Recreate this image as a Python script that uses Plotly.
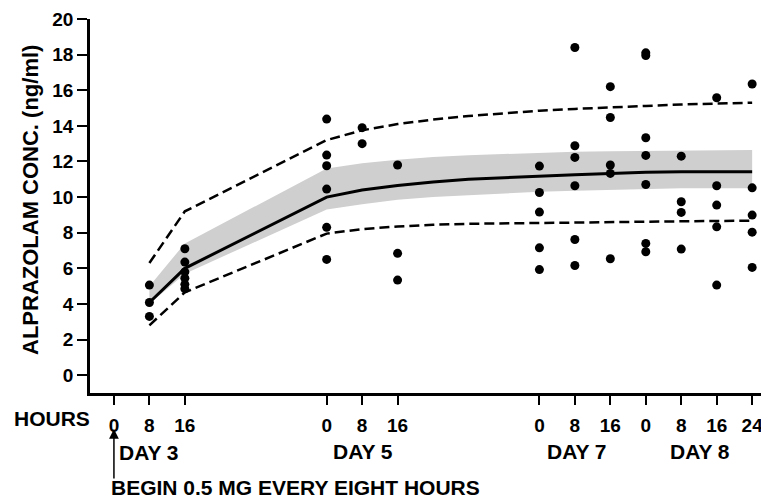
import plotly.graph_objects as go

# ---- data (hours since start of dosing on day 3) ----
tick_hours = [0, 8, 16, 48, 56, 64, 96, 104, 112, 120, 128, 136, 144]
tick_labels = ["0", "8", "16", "0", "8", "16", "0", "8", "16", "0", "8", "16", "24"]
y_ticks = [0, 2, 4, 6, 8, 10, 12, 14, 16, 18, 20]

obs_t8 = [5.06, 4.08, 3.3]
obs_t16 = [7.1, 6.35, 5.8, 5.45, 5.1, 4.85]
obs_t48 = [14.38, 12.36, 11.76, 10.45, 8.3, 6.5]
obs_t56 = [13.9, 13.0]
obs_t64 = [11.8, 6.84, 5.34]
obs_t96 = [11.74, 10.26, 9.16, 7.15, 5.93]
obs_t104 = [18.4, 12.88, 12.23, 10.64, 7.62, 6.16]
obs_t112 = [16.2, 14.47, 11.8, 11.33, 6.54]
obs_t120 = [18.1, 17.95, 13.33, 12.34, 10.71, 7.4, 6.93]
obs_t128 = [12.3, 9.74, 9.14, 7.08]
obs_t136 = [15.58, 10.64, 9.55, 8.33, 5.06]
obs_t144 = [16.35, 10.52, 8.99, 8.03, 6.05]

obs_times = [8, 16, 48, 56, 64, 96, 104, 112, 120, 128, 136, 144]
obs_sets = [obs_t8, obs_t16, obs_t48, obs_t56, obs_t64, obs_t96,
            obs_t104, obs_t112, obs_t120, obs_t128, obs_t136, obs_t144]

curve_t = [8, 16, 48, 56, 64, 72, 80, 96, 104, 112, 120, 128, 136, 144]
mean_v = [4.08, 6.0, 10.0, 10.4, 10.65, 10.85, 11.0, 11.2, 11.26, 11.33, 11.4, 11.42, 11.42, 11.42]
upper_v = [6.3, 9.2, 13.2, 13.75, 14.1, 14.35, 14.55, 14.85, 14.95, 15.05, 15.12, 15.2, 15.25, 15.3]
lower_v = [2.8, 4.65, 7.95, 8.2, 8.35, 8.45, 8.5, 8.56, 8.58, 8.6, 8.62, 8.64, 8.66, 8.67]
band_hi = [5.0, 7.4, 11.6, 11.9, 12.1, 12.25, 12.35, 12.5, 12.55, 12.58, 12.6, 12.62, 12.64, 12.65]
band_lo = [4.0, 5.7, 9.3, 9.6, 9.85, 10.0, 10.1, 10.3, 10.35, 10.4, 10.45, 10.5, 10.5, 10.5]

# ---- layout geometry (page pixels; page body has an 8px margin) ----
PAGE_W, PAGE_H, OFF = 769, 499, 8
W, H = PAGE_W - OFF, PAGE_H - OFF
PLOT_L, PLOT_R, PLOT_T, PLOT_B = 90, 769, 19, 393
ML, MR, MT, MB = PLOT_L - OFF, PAGE_W - PLOT_R, PLOT_T - OFF, PAGE_H - PLOT_B
PW, PH = PLOT_R - PLOT_L, PLOT_B - PLOT_T
FONT = "Liberation Sans"


def px_x(px):
    return (px - PLOT_L) / PW


def px_y(py):
    return (PLOT_B - py) / PH


fig = go.Figure()

# shaded band
fig.add_trace(go.Scatter(x=curve_t, y=band_lo, mode="lines", line=dict(width=0),
                         showlegend=False, hoverinfo="skip"))
fig.add_trace(go.Scatter(x=curve_t, y=band_hi, mode="lines", line=dict(width=0),
                         fill="tonexty", fillcolor="#cfcfcf",
                         showlegend=False, hoverinfo="skip"))

# dashed envelopes
for vals in (upper_v, lower_v):
    fig.add_trace(go.Scatter(x=curve_t, y=vals, mode="lines",
                             line=dict(color="black", width=2.5, dash="10px,5px"),
                             showlegend=False))

# mean line
fig.add_trace(go.Scatter(x=curve_t, y=mean_v, mode="lines",
                         line=dict(color="black", width=3), showlegend=False))

# observations
xs, ys = [], []
for t, vals in zip(obs_times, obs_sets):
    xs += [t] * len(vals)
    ys += vals
fig.add_trace(go.Scatter(x=xs, y=ys, mode="markers",
                         marker=dict(color="black", size=9), showlegend=False))

tickfont = dict(family=FONT, size=19, color="black", weight="bold")
lblfont = dict(family=FONT, size=21, color="black", weight="bold")
titlefont = dict(family=FONT, size=22, color="black", weight="bold")

fig.update_xaxes(range=[-5.4, 147.8], tickvals=tick_hours, ticktext=tick_labels,
                 showline=True, linecolor="black", linewidth=2.5,
                 ticks="outside", ticklen=9, tickwidth=2, tickcolor="black",
                 tickfont=tickfont, showgrid=False, zeroline=False,
                 ticklabelstandoff=4)
fig.update_yaxes(range=[-1, 20], tickvals=y_ticks,
                 showline=True, linecolor="black", linewidth=2.5,
                 ticks="outside", ticklen=10, tickwidth=2, tickcolor="black",
                 tickfont=tickfont, showgrid=False, zeroline=False)

fig.add_annotation(xref="paper", yref="paper", showarrow=False, font=titlefont,
                   text="ALPRAZOLAM CONC. (ng/ml)", textangle=-90,
                   x=px_x(30), y=px_y(200), xanchor="center", yanchor="middle")

ann = [
    dict(text="HOURS", x=px_x(92), y=px_y(418), xanchor="right", yanchor="middle"),
    dict(text="DAY 3", x=px_x(117), y=px_y(452), xanchor="left", yanchor="middle"),
    dict(text="DAY 5", x=px_x(363), y=px_y(451), xanchor="center", yanchor="middle"),
    dict(text="DAY 7", x=px_x(577), y=px_y(451), xanchor="center", yanchor="middle"),
    dict(text="DAY 8", x=px_x(700), y=px_y(451), xanchor="center", yanchor="middle"),
    dict(text="BEGIN 0.5 MG EVERY EIGHT HOURS", x=px_x(109), y=px_y(487),
         xanchor="left", yanchor="middle"),
]
for a in ann:
    fig.add_annotation(xref="paper", yref="paper", showarrow=False, font=lblfont, **a)

# arrow marking start of dosing
fig.add_annotation(xref="x", yref="paper", x=0, y=px_y(429), text="",
                   showarrow=True, arrowhead=2, arrowsize=1.3, arrowwidth=1.5,
                   arrowcolor="black", ax=0, ay=51)

fig.update_layout(width=W, height=H, margin=dict(l=ML, r=MR, t=MT, b=MB),
                  plot_bgcolor="white", paper_bgcolor="white")

fig.write_html("out.html")
